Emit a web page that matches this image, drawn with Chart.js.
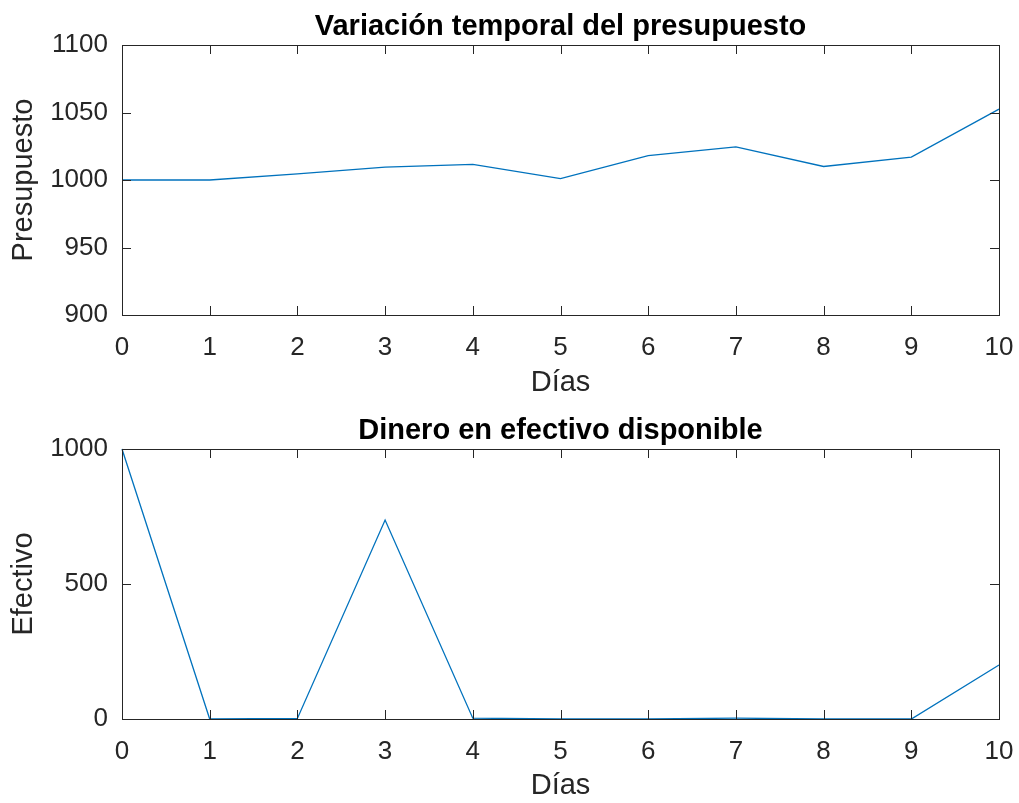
<!DOCTYPE html>
<html>
<head>
<meta charset="utf-8">
<script src="https://cdn.jsdelivr.net/npm/chart.js@4.4.1/dist/chart.umd.min.js"></script>
<style>
  html, body { margin: 0; padding: 0; background: #ffffff; }
  #wrap { position: relative; width: 1019px; height: 803px; }
  #wrap canvas { position: absolute; left: 0; }
</style>
</head>
<body>
<div id="wrap">
  <canvas id="presupuestoChart" width="1019" height="400" style="top:0"></canvas>
  <canvas id="efectivoChart" width="1019" height="403" style="top:400px"></canvas>
</div>
<script>
// datos
const dias = [0, 1, 2, 3, 4, 5, 6, 7, 8, 9, 10];
const presupuesto = [1000, 1000, 1004.5, 1009.5, 1011.5, 1001, 1018, 1024.5, 1010, 1017, 1052.5];
const efectivo = [1000, 0, 2, 737, 3, 0, 0, 3, 0, 0, 200];

const FONT = '"Liberation Sans", Arial, Helvetica, sans-serif';
const AXIS_COLOR = '#262626';
const LINE_COLOR = '#0072BD';
const TICK_LEN = 9;

Chart.defaults.font.family = FONT;
Chart.defaults.animation = false;

// caja estilo matlab con marcas hacia dentro + título centrado sobre el área
const cajaMatlab = {
    id: 'cajaMatlab',
    afterDatasetsDraw(chart, args, opts) {
        const { ctx, chartArea: a, scales } = chart;
        ctx.save();
        ctx.strokeStyle = AXIS_COLOR;
        ctx.lineWidth = 1;
        ctx.beginPath();
        scales.x.ticks.forEach(t => {
            const px = Math.round(scales.x.getPixelForValue(t.value)) + 0.5;
            ctx.moveTo(px, a.bottom); ctx.lineTo(px, a.bottom - TICK_LEN);
            ctx.moveTo(px, a.top); ctx.lineTo(px, a.top + TICK_LEN);
        });
        scales.y.ticks.forEach(t => {
            const py = Math.round(scales.y.getPixelForValue(t.value)) + 0.5;
            ctx.moveTo(a.left, py); ctx.lineTo(a.left + TICK_LEN, py);
            ctx.moveTo(a.right, py); ctx.lineTo(a.right - TICK_LEN, py);
        });
        ctx.stroke();
        ctx.strokeRect(Math.round(a.left) + 0.5, Math.round(a.top) + 0.5,
            Math.round(a.right - a.left), Math.round(a.bottom - a.top));

        ctx.fillStyle = '#000000';
        ctx.font = 'bold 29px ' + FONT;
        ctx.textAlign = 'center';
        ctx.textBaseline = 'alphabetic';
        ctx.fillText(opts.text, (a.left + a.right) / 2, opts.baseline);
        ctx.restore();
    }
};

function creaGrafico(id, values, titulo, tituloBase, yLabel, yMin, yMax, yStep, top, xHeight) {
    const ctx = document.getElementById(id).getContext('2d');
    return new Chart(ctx, {
        type: 'line',
        data: {
            datasets: [{
                data: dias.map((d, i) => ({ x: d, y: values[i] })),
                borderColor: LINE_COLOR,
                borderWidth: 1.3,
                pointRadius: 0,
                tension: 0,
                fill: false,
                clip: 2
            }]
        },
        options: {
            responsive: false,
            layout: { padding: { left: 0, right: 20, top: top, bottom: 0 } },
            plugins: {
                legend: { display: false },
                tooltip: { enabled: false },
                title: { display: false },
                cajaMatlab: { text: titulo, baseline: tituloBase }
            },
            scales: {
                x: {
                    type: 'linear',
                    min: 0, max: 10,
                    grid: { display: false, drawTicks: false },
                    border: { display: false },
                    ticks: { stepSize: 1, color: AXIS_COLOR, font: { size: 26 }, padding: 17, maxRotation: 0 },
                    title: { display: true, text: 'Días', color: AXIS_COLOR, font: { size: 29 }, padding: { top: 0, bottom: 0 } },
                    afterFit: s => { s.height = xHeight; s.paddingLeft = 0; s.paddingRight = 0; }
                },
                y: {
                    min: yMin, max: yMax,
                    grid: { display: false, drawTicks: false },
                    border: { display: false },
                    ticks: { stepSize: yStep, color: AXIS_COLOR, font: { size: 26 }, padding: 14,
                        callback: v => String(v) },
                    title: { display: true, text: yLabel, color: AXIS_COLOR, font: { size: 29 }, padding: { top: 7, bottom: 0 } },
                    afterFit: s => { s.width = 122; s.paddingTop = 0; s.paddingBottom = 0; }
                }
            }
        },
        plugins: [cajaMatlab]
    });
}

creaGrafico('presupuestoChart', presupuesto, 'Variación temporal del presupuesto', 35, 'Presupuesto',
    900, 1100, 50, 45, 85);
creaGrafico('efectivoChart', efectivo, 'Dinero en efectivo disponible', 39, 'Efectivo',
    0, 1000, 500, 49, 84);
</script>
</body>
</html>
